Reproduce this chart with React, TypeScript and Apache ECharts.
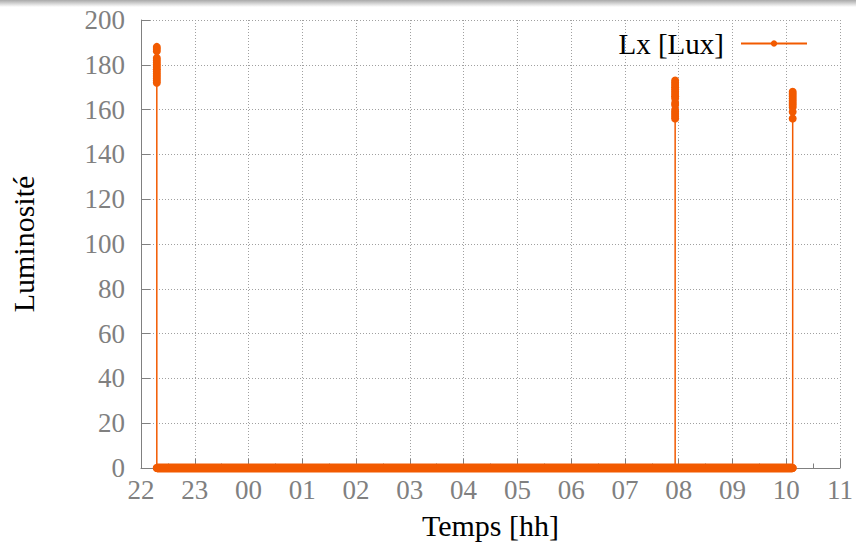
import React, { useEffect, useRef } from 'react';
import * as echarts from 'echarts';

// Tick labels of the time axis (hours, from 22h to 11h next day)
const xTickLabels = ['22', '23', '00', '01', '02', '03', '04', '05', '06', '07', '08', '09', '10', '11'];
const yMin = 0;
const yMax = 200;
const yStep = 20;

// Positions in hours counted from 22:00
const baselineStart = 0.294;
const baselineEnd = 12.12;

const spike1Hour = 0.294;
const spike1Values = [172, 173, 174, 175, 176, 177, 178, 179, 180, 181, 182, 183, 186, 187, 188];
const spike2Hour = 9.934;
const spike2Values = [156, 157, 158, 159, 160, 162, 163, 165, 166, 167, 168, 169, 170, 171, 172, 173];
const spike3Hour = 12.12;
const spike3Values = [156, 159, 161, 162, 163, 164, 165, 166, 167, 168];

const ORANGE = '#f25a00';
const GRAY = '#808080';
const FONT = '"Liberation Serif", "DejaVu Serif", serif';

function buildSeries(): [number, number][] {
  const pts: [number, number][] = [];
  const spikes: [number, number[]][] = [
    [spike1Hour, spike1Values],
    [spike2Hour, spike2Values],
    [spike3Hour, spike3Values],
  ];
  spikes.forEach(([h, vals]) => {
    pts.push([h, 0]);
    vals.forEach((v) => pts.push([h, v]));
    pts.push([h, 0]);
  });
  return pts;
}

export default function App() {
  const ref = useRef<HTMLDivElement>(null);
  useEffect(() => {
    if (!ref.current) return;
    const chart = echarts.init(ref.current, undefined, { renderer: 'svg' });
    const axisCommon = {
      axisLine: { show: true, lineStyle: { color: GRAY, width: 1 } },
      axisLabel: { color: GRAY, fontSize: 27, fontFamily: FONT },
      splitLine: { show: true, lineStyle: { color: '#a0a0a0', width: 1, type: [1, 2] } },
      nameTextStyle: { color: '#000', fontSize: 30, fontFamily: FONT },
      nameLocation: 'middle' as const,
    };
    chart.setOption({
      animation: false,
      backgroundColor: '#ffffff',
      graphic: [
        {
          type: 'rect',
          left: 0,
          top: 0,
          shape: { width: 856, height: 7 },
          style: {
            fill: new echarts.graphic.LinearGradient(0, 0, 0, 1, [
              { offset: 0, color: '#a9a9a9' },
              { offset: 1, color: '#ffffff' },
            ]),
          },
          silent: true,
        },
      ],
      grid: { left: 134, right: 14, top: 20, bottom: 74, containLabel: false },
      legend: {
        data: ['Lx [Lux]'],
        right: 43,
        top: 24,
        align: 'right',
        itemWidth: 66,
        itemHeight: 8,
        textStyle: { color: '#000', fontSize: 29, fontFamily: FONT, padding: [0, 12, 0, 0] },
      },
      xAxis: {
        type: 'value',
        min: 0,
        max: xTickLabels.length - 1,
        interval: 1,
        ...axisCommon,
        axisTick: { show: true, inside: true, length: 9, lineStyle: { color: GRAY } },
        minorTick: { show: true, splitNumber: 2, length: 4.5, lineStyle: { color: GRAY } },
        axisLabel: {
          ...axisCommon.axisLabel,
          margin: 8,
          formatter: (v: number) => xTickLabels[Math.round(v)] ?? '',
        },
        name: 'Temps [hh]',
        nameGap: 42,
      },
      yAxis: {
        type: 'value',
        min: yMin,
        max: yMax,
        interval: yStep,
        ...axisCommon,
        axisTick: { show: true, inside: true, length: 9, lineStyle: { color: GRAY } },
        axisLabel: { ...axisCommon.axisLabel, margin: 16 },
        name: 'Luminosité',
        nameRotate: 90,
        nameGap: 103,
      },
      series: [
        {
          name: 'baseline',
          type: 'line',
          data: [
            [baselineStart, 0],
            [baselineEnd, 0],
          ],
          showSymbol: false,
          symbol: 'none',
          clip: false,
          lineStyle: { color: ORANGE, width: 9, cap: 'butt' },
          silent: true,
          z: 2,
        },
        {
          name: 'Lx [Lux]',
          type: 'line',
          data: buildSeries(),
          symbol: 'circle',
          symbolSize: 8,
          showSymbol: true,
          showAllSymbol: true,
          clip: false,
          color: ORANGE,
          itemStyle: { color: ORANGE },
          lineStyle: { color: ORANGE, width: 1.5 },
          z: 3,
        },
      ],
    });
    return () => chart.dispose();
  }, []);
  return (
    <div
      ref={ref}
      style={{ position: 'fixed', left: 0, top: 0, width: 856, height: 545 }}
    />
  );
}
